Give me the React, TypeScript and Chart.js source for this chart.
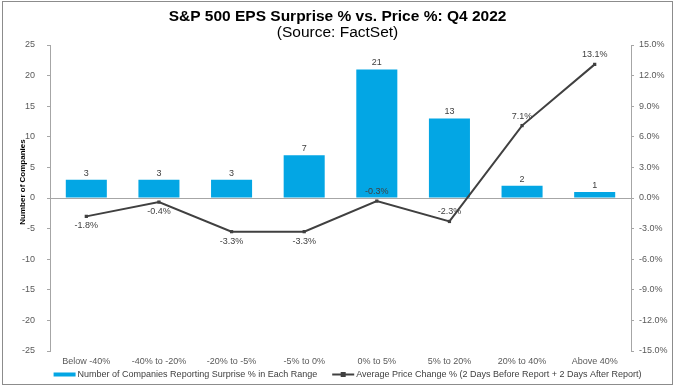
import React, { useEffect, useRef } from 'react';
import { Chart, registerables } from 'chart.js';

Chart.register(...registerables);

const categories = ['Below -40%', '-40% to -20%', '-20% to -5%', '-5% to 0%', '0% to 5%', '5% to 20%', '20% to 40%', 'Above 40%'];
const companyCounts = [3, 3, 3, 7, 21, 13, 2, 1];
const avgPriceChange = [-1.8, -0.4, -3.3, -3.3, -0.3, -2.3, 7.1, 13.1];
const barSeriesName = 'Number of Companies Reporting Surprise % in Each Range';
const lineSeriesName = 'Average Price Change % (2 Days Before Report + 2 Days After Report)';
const chartTitle = 'S&P 500 EPS Surprise % vs. Price %: Q4 2022';
const chartSubtitle = '(Source: FactSet)';
const leftAxisTitle = 'Number of Companies';
const leftRange = { min: -25, max: 25, step: 5 };
const rightRange = { min: -15, max: 15, step: 3 };
// which line labels sit above their point (true) or below (false)
const lineLabelAbove = [false, false, false, false, true, true, true, true];

const FONT = '"Liberation Sans", Arial, Helvetica, sans-serif';
const BAR_COLOR = '#03A6E4';
const LINE_COLOR = '#404040';
const AXIS_COLOR = '#A6A6A6';
const TEXT_COLOR = '#404040';
const TICK_COLOR = '#595959';

const framePlugin = {
  id: 'frame',
  beforeDraw(chart: any) {
    const { ctx, width, height } = chart;
    ctx.save();
    ctx.fillStyle = '#ffffff';
    ctx.fillRect(0, 0, width, height);
    ctx.restore();
  },
  afterDraw(chart: any) {
    const { ctx } = chart;
    ctx.save();
    ctx.strokeStyle = '#8c8c8c';
    ctx.lineWidth = 1;
    ctx.strokeRect(2.5, 1.5, 670, 383);
    // left axis title
    ctx.translate(22.5, 182);
    ctx.rotate(-Math.PI / 2);
    ctx.font = `bold 8px ${FONT}`;
    ctx.fillStyle = '#000000';
    ctx.textAlign = 'center';
    ctx.textBaseline = 'middle';
    ctx.fillText(leftAxisTitle, 0, 0);
    ctx.restore();
  },
};

const valueLabelPlugin = {
  id: 'valueLabels',
  afterDatasetsDraw(chart: any) {
    const { ctx } = chart;
    ctx.save();
    ctx.font = `9px ${FONT}`;
    ctx.fillStyle = TEXT_COLOR;
    ctx.textAlign = 'center';
    const barMeta = chart.getDatasetMeta(0);
    barMeta.data.forEach((el: any, i: number) => {
      ctx.textBaseline = 'bottom';
      ctx.fillText(String(companyCounts[i]), el.x, el.y - 2);
    });
    const lineMeta = chart.getDatasetMeta(1);
    lineMeta.data.forEach((el: any, i: number) => {
      const above = lineLabelAbove[i];
      ctx.textBaseline = 'middle';
      ctx.fillText(avgPriceChange[i].toFixed(1) + '%', el.x, above ? el.y - 9.5 : el.y + 9.5);
    });
    ctx.restore();
  },
};

const legendPlugin = {
  id: 'customLegend',
  afterDraw(chart: any) {
    const { ctx } = chart;
    ctx.save();
    ctx.font = `9px ${FONT}`;
    const markerW = 22;
    const gap = 2;
    const itemGap = 15;
    const w1 = ctx.measureText(barSeriesName).width;
    const w2 = ctx.measureText(lineSeriesName).width;
    const total = markerW + gap + w1 + itemGap + markerW + gap + w2;
    const y = 374.5;
    let x = chart.width / 2 + 10 - total / 2;
    ctx.fillStyle = BAR_COLOR;
    ctx.fillRect(x, y - 2, markerW, 4);
    x += markerW + gap;
    ctx.fillStyle = TEXT_COLOR;
    ctx.textAlign = 'left';
    ctx.textBaseline = 'middle';
    ctx.fillText(barSeriesName, x, y);
    x += w1 + itemGap;
    ctx.strokeStyle = LINE_COLOR;
    ctx.lineWidth = 2;
    ctx.beginPath();
    ctx.moveTo(x, y);
    ctx.lineTo(x + markerW, y);
    ctx.stroke();
    ctx.fillStyle = LINE_COLOR;
    ctx.fillRect(x + markerW / 2 - 2.5, y - 2.5, 5, 5);
    x += markerW + gap;
    ctx.fillStyle = TEXT_COLOR;
    ctx.fillText(lineSeriesName, x, y);
    ctx.restore();
  },
};

export default function App() {
  const canvasRef = useRef<HTMLCanvasElement | null>(null);

  useEffect(() => {
    const canvas = canvasRef.current;
    if (!canvas) return;
    Chart.defaults.font.family = FONT;
    const chart = new Chart(canvas, {
      type: 'bar',
      data: {
        labels: categories,
        datasets: [
          {
            type: 'bar',
            label: barSeriesName,
            data: companyCounts,
            backgroundColor: BAR_COLOR,
            borderWidth: 0,
            yAxisID: 'y',
            categoryPercentage: 1,
            barPercentage: 0.565,
            order: 2,
          },
          {
            type: 'line',
            label: lineSeriesName,
            data: avgPriceChange,
            borderColor: LINE_COLOR,
            backgroundColor: LINE_COLOR,
            borderWidth: 2,
            pointStyle: 'rect',
            pointRadius: 2.3,
            pointBackgroundColor: LINE_COLOR,
            pointBorderWidth: 0,
            tension: 0,
            yAxisID: 'y1',
            order: 1,
          },
        ],
      } as any,
      options: {
        responsive: false,
        animation: false,
        layout: { padding: { left: 0, right: 0, top: 0, bottom: 25 } },
        plugins: {
          legend: { display: false },
          tooltip: { enabled: false },
          title: {
            display: true,
            text: chartTitle,
            color: '#000000',
            font: { size: 15.5, weight: 'bold', lineHeight: 1 },
            padding: { top: 9, bottom: 0 },
          },
          subtitle: {
            display: true,
            text: chartSubtitle,
            color: '#000000',
            font: { size: 15.5, weight: 'normal', lineHeight: 1 },
            padding: { top: 0, bottom: 5 },
          },
        },
        scales: {
          x: {
            grid: { display: false, drawTicks: false },
            border: { display: false },
            ticks: {
              color: TICK_COLOR,
              font: { size: 9 },
              padding: 5,
              maxRotation: 0,
              autoSkip: false,
            },
            afterFit: (s: any) => {
              s.height = 14;
            },
          },
          y: {
            position: 'left',
            min: leftRange.min,
            max: leftRange.max,
            ticks: { stepSize: leftRange.step, color: TICK_COLOR, font: { size: 9 }, padding: 12 },
            grid: {
              color: (c: any) => (c.tick && c.tick.value === 0 ? AXIS_COLOR : 'rgba(0,0,0,0)'),
              tickColor: AXIS_COLOR,
              tickLength: 3,
              lineWidth: 1,
            },
            border: { display: true, color: AXIS_COLOR },
            title: { display: false },
            afterFit: (s: any) => {
              s.width = 50;
            },
          },
          y1: {
            position: 'right',
            min: rightRange.min,
            max: rightRange.max,
            ticks: {
              stepSize: rightRange.step,
              color: TICK_COLOR,
              font: { size: 9 },
              padding: 5,
              callback: (v: any) => Number(v).toFixed(1) + '%',
            },
            grid: { drawOnChartArea: false, color: AXIS_COLOR, tickColor: AXIS_COLOR, tickLength: 3 },
            border: { display: true, color: AXIS_COLOR },
            afterFit: (s: any) => {
              s.width = 44;
            },
          },
        },
      } as any,
      plugins: [framePlugin, valueLabelPlugin, legendPlugin],
    });
    return () => chart.destroy();
  }, []);

  return (
    <div style={{ position: 'fixed', left: 0, top: 0, width: 675, height: 390, background: '#fff' }}>
      <canvas ref={canvasRef} width={675} height={390} style={{ display: 'block' }} />
    </div>
  );
}
